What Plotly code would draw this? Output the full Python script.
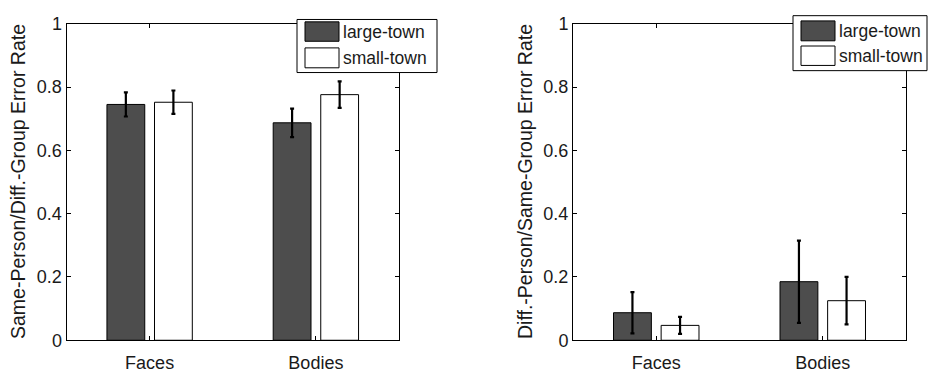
import plotly.graph_objects as go

# Data
categories = ["Faces", "Bodies"]
groups = ["large-town", "small-town"]

same_person_large = [0.745, 0.687]
same_person_large_err = [0.038, 0.045]
same_person_small = [0.752, 0.776]
same_person_small_err = [0.037, 0.042]

diff_person_large = [0.087, 0.185]
diff_person_large_err = [0.065, 0.130]
diff_person_small = [0.047, 0.125]
diff_person_small_err = [0.027, 0.075]

y_ticks = [0, 0.2, 0.4, 0.6, 0.8, 1]
y_tick_text = ["0", "0.2", "0.4", "0.6", "0.8", "1"]

left_title = "Same-Person/Diff.-Group Error Rate"
right_title = "Diff.-Person/Same-Group Error Rate"

# Styling
W, H = 929, 382
FONT = "Liberation Sans, Arial, sans-serif"
fills = ["#4d4d4d", "#ffffff"]


def px_x(v):
    return v / W


def px_y(v):
    return 1 - v / H


fig = go.Figure()

panels = [
    ("x", "y", [same_person_large, same_person_small],
     [same_person_large_err, same_person_small_err]),
    ("x2", "y2", [diff_person_large, diff_person_small],
     [diff_person_large_err, diff_person_small_err]),
]

for xa, ya, vals, errs in panels:
    for name, fill, v, e in zip(groups, fills, vals, errs):
        fig.add_trace(go.Bar(
            x=categories, y=v, name=name, xaxis=xa, yaxis=ya,
            marker=dict(color=fill, line=dict(color="black", width=1)),
            error_y=dict(type="data", array=e, color="black",
                         thickness=2.2, width=2),
            showlegend=False,
        ))

axis_common = dict(
    showline=True, linecolor="black", linewidth=1, mirror="ticks",
    ticks="inside", ticklen=4, tickcolor="black", tickwidth=1,
    showgrid=False, zeroline=False,
    tickfont=dict(family=FONT, size=18, color="#1a1a1a"),
)

y_dom = [1 - 348.5 / H, 1 - 14.5 / H]

fig.update_layout(
    width=W, height=H,
    margin=dict(l=0, r=0, t=0, b=0),
    paper_bgcolor="white", plot_bgcolor="white",
    barmode="group", bargap=0.428, bargroupgap=0.205,
    xaxis=dict(domain=[px_x(66.5), px_x(399)], range=[-0.5, 1.5],
               anchor="y", ticklabelstandoff=6, **axis_common),
    yaxis=dict(domain=y_dom, range=[0, 1], tickvals=y_ticks,
               ticktext=y_tick_text, anchor="x", **axis_common),
    xaxis2=dict(domain=[px_x(573), px_x(906)], range=[-0.5, 1.5],
                anchor="y2", ticklabelstandoff=6, **axis_common),
    yaxis2=dict(domain=y_dom, range=[0, 1], tickvals=y_ticks,
                ticktext=y_tick_text, anchor="x2", **axis_common),
)

# Axis titles
for title, cx in [(left_title, 18), (right_title, 525)]:
    fig.add_annotation(text=title, x=px_x(cx), y=(y_dom[0] + y_dom[1]) / 2,
                       xref="paper", yref="paper", textangle=-90,
                       showarrow=False, xanchor="center", yanchor="middle",
                       font=dict(family=FONT, size=19.5, color="#1a1a1a"))

# Boxed legends with large swatches (one per panel)
legend_boxes = [
    dict(box=(297, 10, 437, 66), sw_x=(305, 339),
         rows=[(12.5, 33), (40, 61)], text_x=341),
    dict(box=(793, 6, 927, 64), sw_x=(801, 835),
         rows=[(11.5, 32.5), (38, 58.5)], text_x=837),
]
for lg in legend_boxes:
    x0, y0, x1, y1 = lg["box"]
    fig.add_shape(type="rect", xref="paper", yref="paper",
                  x0=px_x(x0), x1=px_x(x1), y0=px_y(y1), y1=px_y(y0),
                  line=dict(color="black", width=1), fillcolor="white",
                  layer="above")
    for name, fill, (ra, rb) in zip(groups, fills, lg["rows"]):
        fig.add_shape(type="rect", xref="paper", yref="paper",
                      x0=px_x(lg["sw_x"][0]), x1=px_x(lg["sw_x"][1]),
                      y0=px_y(rb), y1=px_y(ra),
                      line=dict(color="black", width=1), fillcolor=fill,
                      layer="above")
        fig.add_annotation(text=name, x=px_x(lg["text_x"]),
                           y=px_y((ra + rb) / 2), xref="paper", yref="paper",
                           showarrow=False, xanchor="left", yanchor="middle",
                           font=dict(family=FONT, size=17.5, color="#1a1a1a"))

fig.write_html("out.html")
